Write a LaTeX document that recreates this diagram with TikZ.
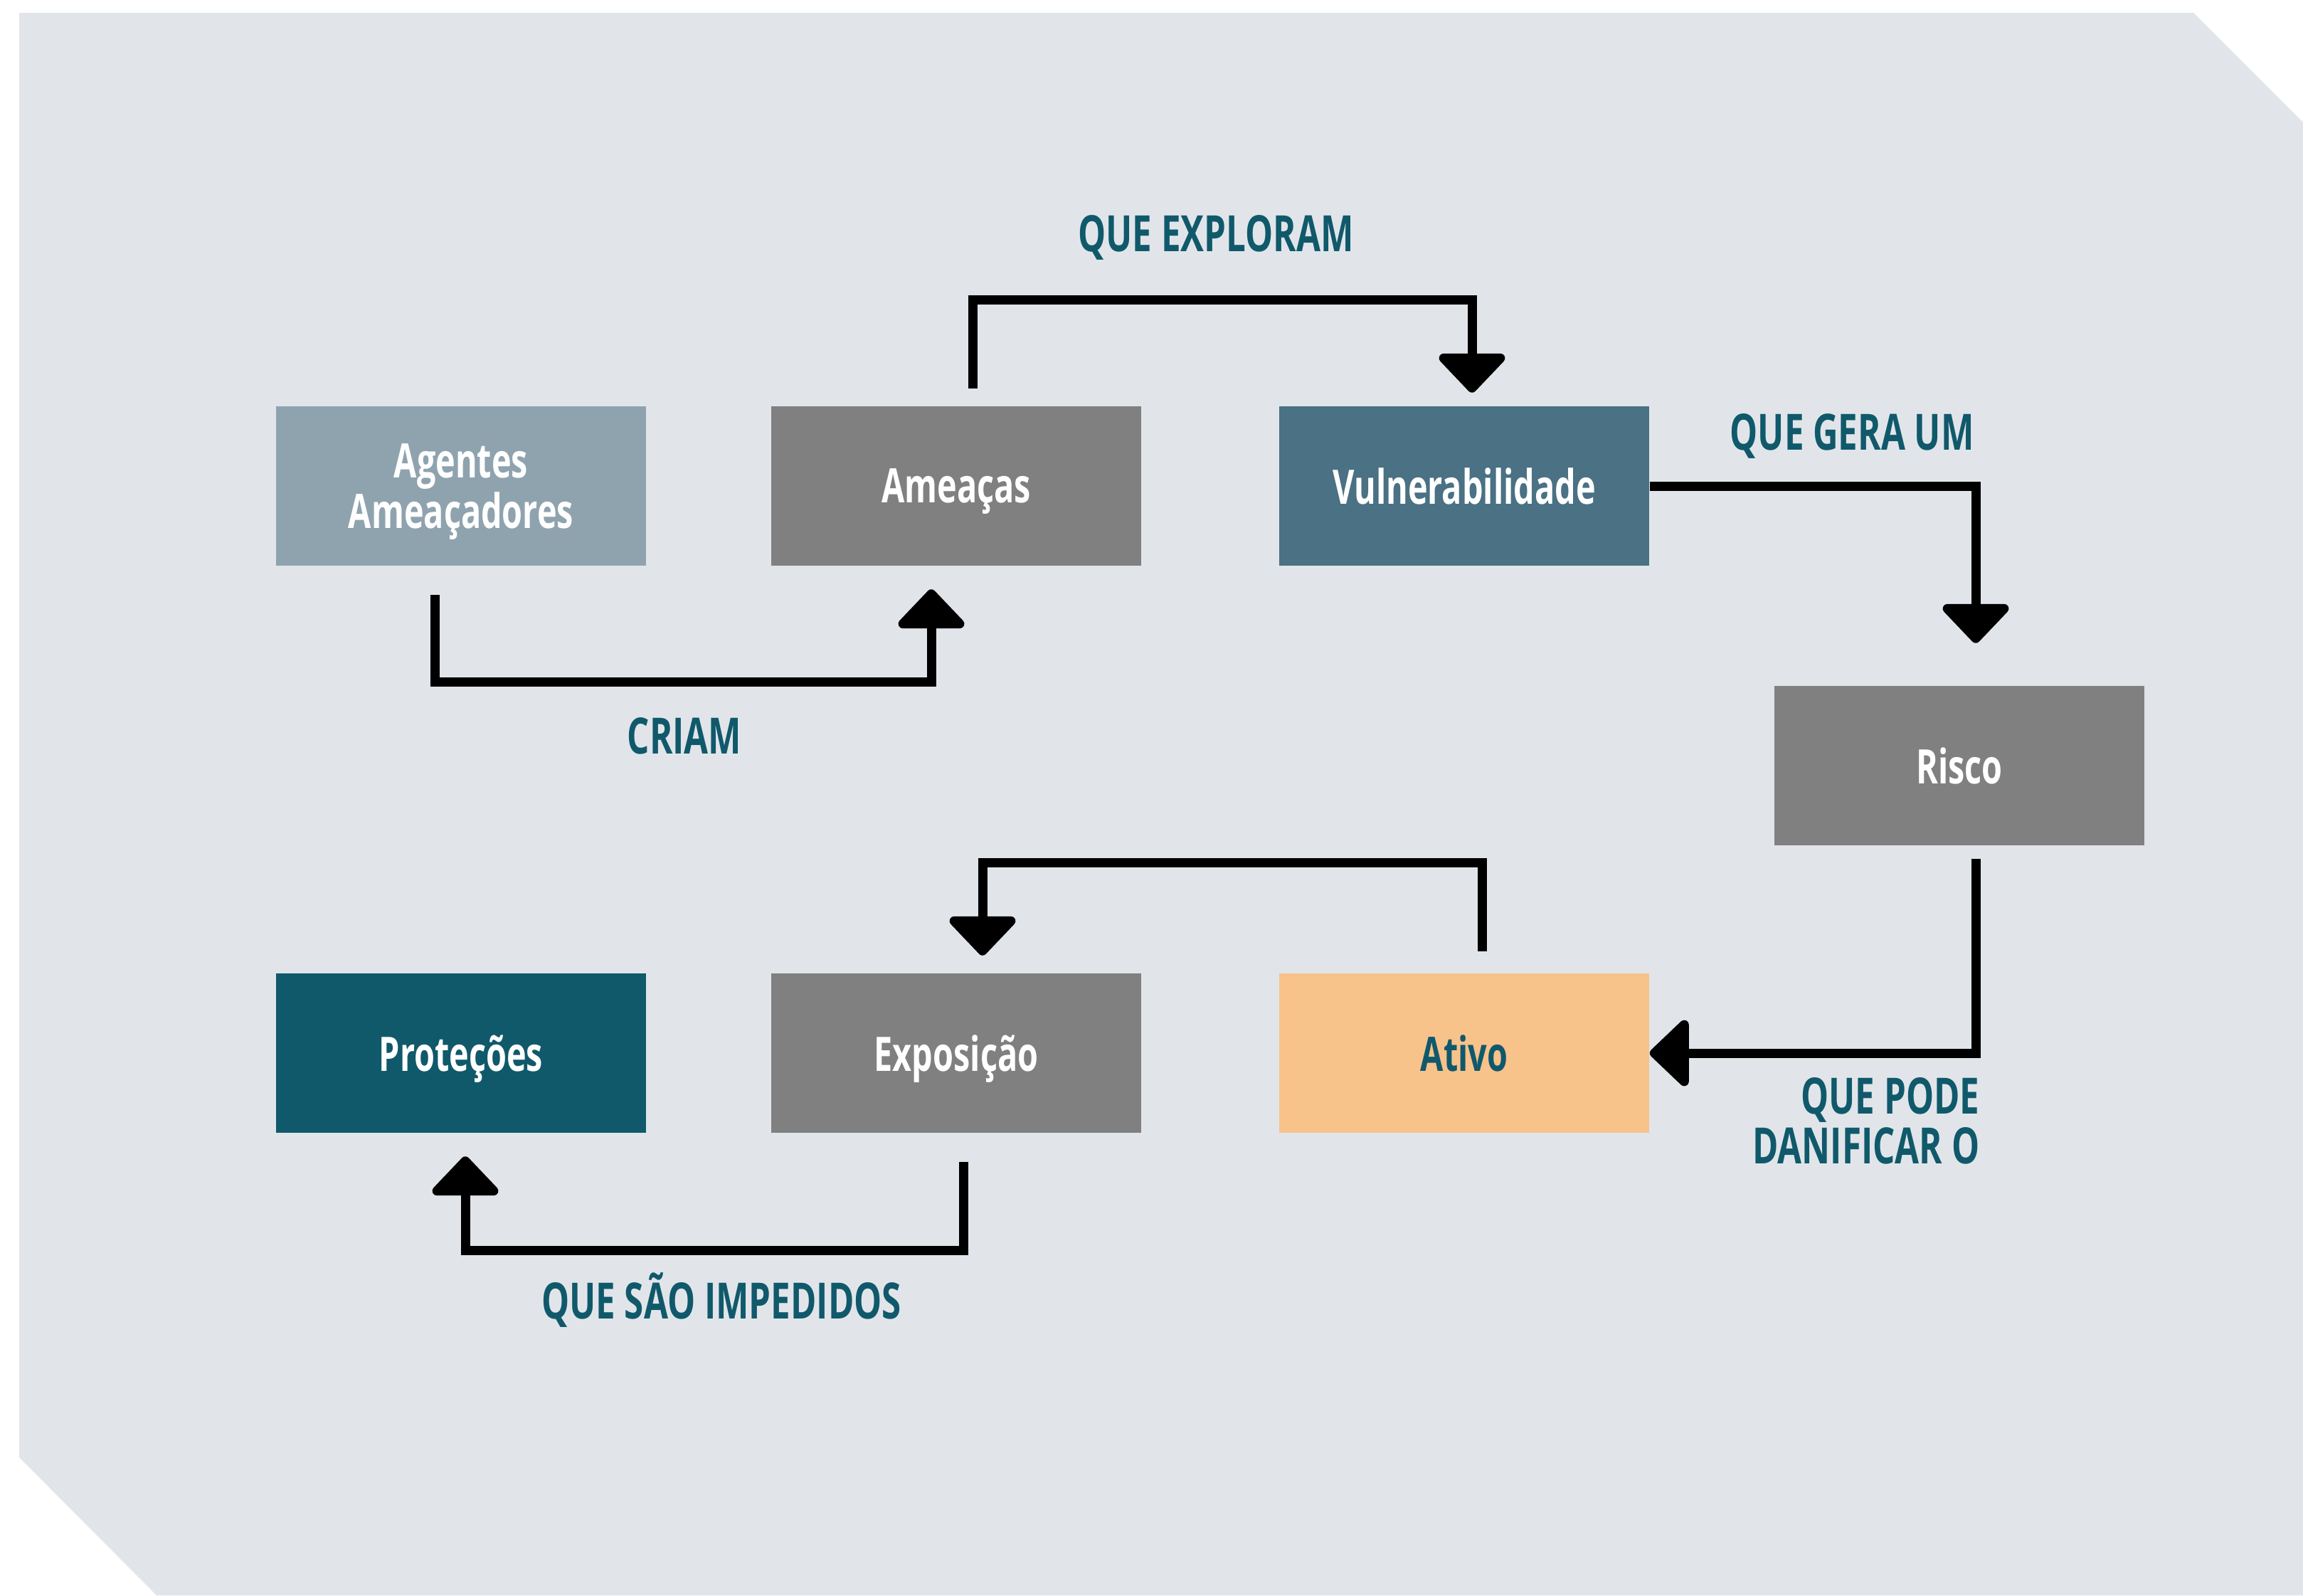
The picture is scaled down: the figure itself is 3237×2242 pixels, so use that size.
\documentclass[tikz,border=0pt]{standalone}
\usepackage{fontspec}
\setmainfont{Open Sans}[FakeStretch=0.7]
\usepackage{tikz}
\usetikzlibrary{positioning, calc}
\usetikzlibrary{arrows.meta}

\definecolor{backcol}{HTML}{E1E5EA}
\definecolor{agentcol}{HTML}{8FA3AF}
\definecolor{greycol}{HTML}{808080}
\definecolor{vulncol}{HTML}{4A7184}
\definecolor{protcol}{HTML}{10596B}
\definecolor{ativocol}{HTML}{F8C28B}
\definecolor{labelcol}{HTML}{10596B}

\begin{document}
\begin{tikzpicture}[x=0.01cm,y=-0.01cm]
 	\tikzstyle{r-box}=[rectangle,inner sep=0pt,minimum width=5.2cm,minimum height=2.23cm,text depth=0pt,text=white,align=center,font=\bfseries\fontsize{19}{18}\selectfont]
 	\tikzstyle{annot}=[text=labelcol,align=right,inner sep=0pt,font=\bfseries\fontsize{20}{20}\selectfont]
 	\tikzstyle{flow}=[line width=1.3mm,-{Triangle[width=10.7mm,length=5.8mm,round]}]
 	\useasboundingbox (0,0) rectangle (3237,2242);
 	% background
 	\fill[backcol] (27,18) -- (3083,18) -- (3237,172) -- (3237,2242) -- (220,2242) -- (27,2048) -- cycle;

 	% upper row
 	\node[r-box,fill=agentcol] 	(agentes)	at (648,683)	{Agentes\\Ameaçadores};
 	\node[r-box,fill=greycol] 	(ameacas)	at (1344,683)	{Ameaças};
 	\node[r-box,fill=vulncol] 	(vulner)	at (2058,683)	{Vulnerabilidade};
 	\node[r-box,fill=greycol] 	(risco)	at (2754,1076)	{Risco};
 	% lower row
 	\node[r-box,fill=protcol] 	(protec)	at (648,1480)	{Proteções};
 	\node[r-box,fill=greycol] 	(expos)	at (1344,1480)	{Exposição};
 	\node[r-box,fill=ativocol,text=labelcol] 	(ativo)	at (2058,1480)	{Ativo};

 	% labels
 	\node[annot] (explora-label) at (1709,334)	{QUE EXPLORAM};
 	\node[annot] (gera-label) at (2603,613)	{QUE GERA UM};
 	\node[annot] (criam-label) at (962,1034)	{CRIAM};
 	\node[annot,anchor=east] (danif-label) at (2783,1575)	{QUE PODE\\DANIFICAR O};
 	\node[annot] (imped-label) at (1014,1827)	{QUE SÃO IMPEDIDOS};

 	% connectors
 	\draw[flow] ($(agentes.south)+(-37,41)$) |- ($(ameacas.south)+(-35,163)$) -- ($(ameacas.south)+(-35,33)$);
 	\draw[flow] ($(ameacas.north)+(23,-25)$) |- ($(vulner.north)+(11,-149)$) -- ($(vulner.north)+(11,-19)$);
 	\draw[flow] (vulner.east) -| ($(risco.north)+(23,-60)$);
 	\draw[flow] ($(risco.south)+(23,19)$) |- (ativo.east);
 	\draw[flow] ($(ativo.north)+(25,-31)$) |- ($(expos.north)+(37,-155)$) -- ($(expos.north)+(37,-25)$);
 	\draw[flow] ($(expos.south)+(10,41)$) |- ($(protec.south)+(6,165)$) -- ($(protec.south)+(6,33)$);
\end{tikzpicture}
\end{document}
